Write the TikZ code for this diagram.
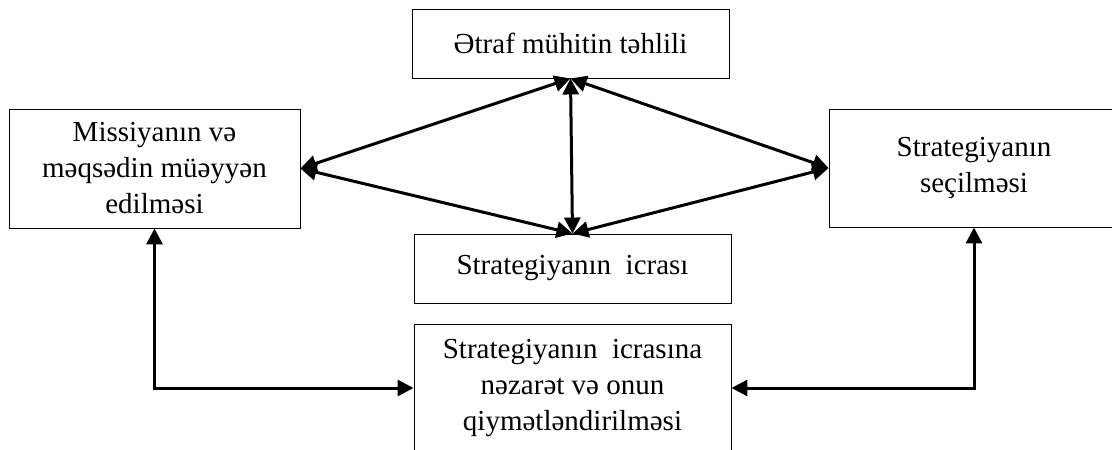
\documentclass[tikz,border=0pt]{standalone}
\usepackage{fontspec}
\setmainfont{Liberation Serif}
\usetikzlibrary{arrows.meta}
\begin{document}
\begin{tikzpicture}[x=1pt,y=-1pt,
  box/.style={draw=black,line width=0.9pt,rectangle,inner sep=0pt,align=center,
    font=\fontsize{29}{36}\selectfont},
  conn/.style={line width=3pt,{Triangle[length=16pt,width=16pt]}-{Triangle[length=16pt,width=16pt]}}]
\useasboundingbox (0,0) rectangle (1112,450);
\node[box,minimum width=317pt,minimum height=69pt] (top) at (570.5,43.5) {Ətraf mühitin təhlili};
\node[box,minimum width=291pt,minimum height=119pt] (left) at (154.5,168.5) {Missiyanın və\\məqsədin müəyyən\\edilməsi};
\node[box,minimum width=290pt,minimum height=118pt] (right) at (974,168) {Strategiyanın\\seçilməsi};
\node[box,minimum width=317pt,minimum height=69pt] (mid) at (572.5,268.5) {Strategiyanın\ \ icrası};
\node[box,minimum width=317pt,minimum height=128pt] (bot) at (572.5,388) {Strategiyanın\ \ icrasına\\nəzarət və onun\\qiymətləndirilməsi};
\draw[conn] (left.east) -- (top.south);
\draw[conn] (left.east) -- (mid.north);
\draw[conn] (right.west) -- (top.south);
\draw[conn] (right.west) -- (mid.north);
\draw[conn] (top.south) -- (mid.north);
\draw[conn] (left.south) |- (bot.west);
\draw[conn] (right.south) |- (bot.east);
\end{tikzpicture}
\end{document}
